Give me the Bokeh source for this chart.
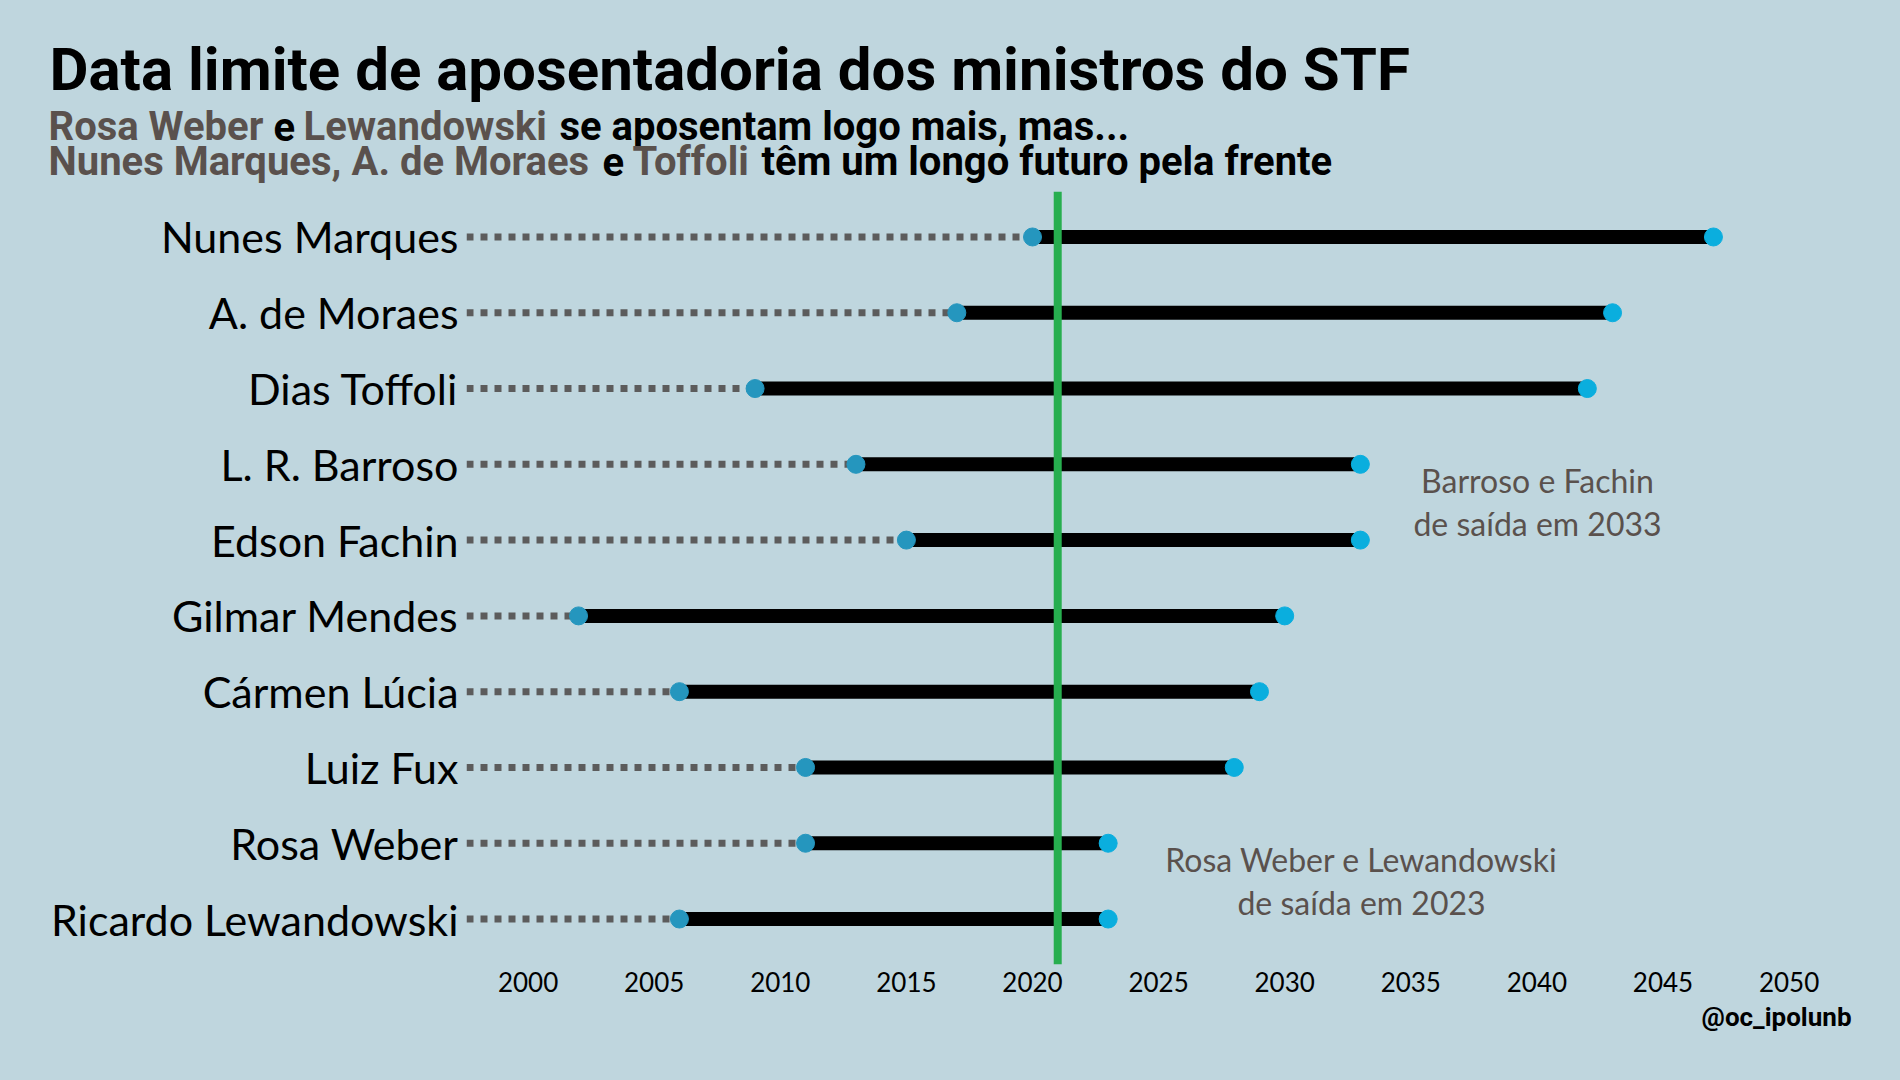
from bokeh.plotting import figure
from bokeh.layouts import column
from bokeh.models import Span, Label, FixedTicker, Range1d, ColumnDataSource, Title
from bokeh.embed import file_html
from bokeh.resources import INLINE

# ---------------- data ----------------
names = ["Ricardo Lewandowski", "Rosa Weber", "Luiz Fux", "Cármen Lúcia",
         "Gilmar Mendes", "Edson Fachin", "L. R. Barroso", "Dias Toffoli",
         "A. de Moraes", "Nunes Marques"]
start_year = [2006, 2011, 2011, 2006, 2002, 2015, 2013, 2009, 2017, 2020]
end_year = [2023, 2023, 2028, 2029, 2030, 2033, 2033, 2042, 2043, 2047]
current_year = 2021
x_ticks = [2000, 2005, 2010, 2015, 2020, 2025, 2030, 2035, 2040, 2045, 2050]

title = "Data limite de aposentadoria dos ministros do STF"
sub1 = [("Rosa Weber", "grey"), ("e", "black"), ("Lewandowski", "grey"),
        ("se aposentam logo mais, mas...", "black")]
sub2 = [("Nunes Marques,", "grey"), ("A. de Moraes", "grey"), ("e", "black"),
        ("Toffoli", "grey"), ("têm um longo futuro pela frente", "black")]
note1 = ["Barroso e Fachin", "de saída em 2033"]
note2 = ["Rosa Weber e Lewandowski", "de saída em 2023"]
credit = "@oc_ipolunb"

# ---------------- style ----------------
BG = "#bfd6de"
GREY_TXT = "#5a514d"
W, H = 1900, 1080
HEAD = 191
FL, FR, FT, FB = 466, 1851, 191, 964   # frame edges in page px
PX_PER_YEAR = 25.22
X2000 = 527.6

x0 = 2000 + (FL - X2000) / PX_PER_YEAR
x1 = 2000 + (FR - X2000) / PX_PER_YEAR

rows = list(range(1, len(names) + 1))
src = ColumnDataSource(dict(y=rows, start=start_year, end=end_year,
                            left=[x0] * len(rows)))

# ---------------- header ----------------
head = figure(width=W, height=HEAD, output_backend="svg", toolbar_location=None,
              x_range=Range1d(0, W), y_range=Range1d(0, HEAD),
              x_axis_location=None, y_axis_location=None,
              min_border=0, background_fill_color=None, border_fill_color=BG,
              outline_line_color=None)
head.frame_align = False
head.xgrid.visible = False
head.ygrid.visible = False


def hlab(text, X, Y, size, color, font="Roboto", style="bold"):
    head.add_layout(Label(x=X, y=HEAD - Y, x_units="screen", y_units="screen",
                          text=text, text_font=font, text_font_size=size,
                          text_font_style=style, text_color=color,
                          text_align="left", text_baseline="alphabetic"))


hlab(title, 49, 69, "60px", "black")
cmap = {"grey": GREY_TXT, "black": "black"}
x_line1 = [48, 273, 303, 559]
x_line2 = [48, 351, 602, 632, 761]
for (t, c), X in zip(sub1, x_line1):
    hlab(t, X, 126, "40px", cmap[c])
for (t, c), X in zip(sub2, x_line2):
    hlab(t, X, 161, "40px", cmap[c])

# ---------------- main ----------------
p = figure(width=W, height=H - HEAD, output_backend="svg", toolbar_location=None,
           x_range=Range1d(x0, x1), y_range=Range1d(0.4, 10.6),
           min_border_left=FL, min_border_right=W - FR,
           min_border_top=0, min_border_bottom=H - FB,
           background_fill_color=None, border_fill_color=BG,
           outline_line_color=None)
p.frame_align = False
p.xgrid.visible = False
p.ygrid.visible = False

p.segment(x0="left", y0="y", x1="start", y1="y", source=src,
          line_color="#5c5c5c", line_width=7, line_dash="7 7")
p.segment(x0="start", y0="y", x1="end", y1="y", source=src,
          line_color="black", line_width=14)
p.add_layout(Span(location=current_year, dimension="height",
                  line_color="#27ae4f", line_width=8))
p.scatter(x="start", y="y", source=src, size=18, color="#2596be")
p.scatter(x="end", y="y", source=src, size=18, color="#0aaede")

p.xaxis.ticker = FixedTicker(ticks=x_ticks)
p.xaxis.axis_line_color = None
p.xaxis.major_tick_line_color = None
p.xaxis.minor_tick_line_color = None
p.xaxis.major_tick_out = 0
p.xaxis.major_label_standoff = 7
p.xaxis.major_label_text_font = "Lato"
p.xaxis.major_label_text_font_size = "26px"
p.xaxis.major_label_text_color = "black"

p.yaxis.ticker = FixedTicker(ticks=rows)
p.yaxis.major_label_overrides = {r: n for r, n in zip(rows, names)}
p.yaxis.axis_line_color = None
p.yaxis.major_tick_line_color = None
p.yaxis.minor_tick_line_color = None
p.yaxis.major_tick_out = 0
p.yaxis.major_label_standoff = 8
p.yaxis.major_label_text_font = "Lato"
p.yaxis.major_label_text_font_size = "43px"
p.yaxis.major_label_text_color = "black"


def lab(text, X, Y, size, color, font="Lato", align="center"):
    p.add_layout(Label(x=X - FL, y=FB - Y, x_units="screen", y_units="screen",
                       text=text, text_font=font, text_font_size=size,
                       text_color=color, text_align=align,
                       text_baseline="alphabetic"))


for t, Y in zip(note1, [480, 523]):
    lab(t, 1537, Y, "32px", GREY_TXT)
for t, Y in zip(note2, [859, 902]):
    lab(t, 1361, Y, "32px", GREY_TXT)

p.add_layout(Title(text=credit, align="right", text_font="Roboto",
                   text_font_style="bold", text_font_size="26px",
                   text_color="black"), "below")

layout = column(head, p, spacing=0, styles={"background-color": BG})
open("out.html", "w").write(file_html(layout, INLINE))
